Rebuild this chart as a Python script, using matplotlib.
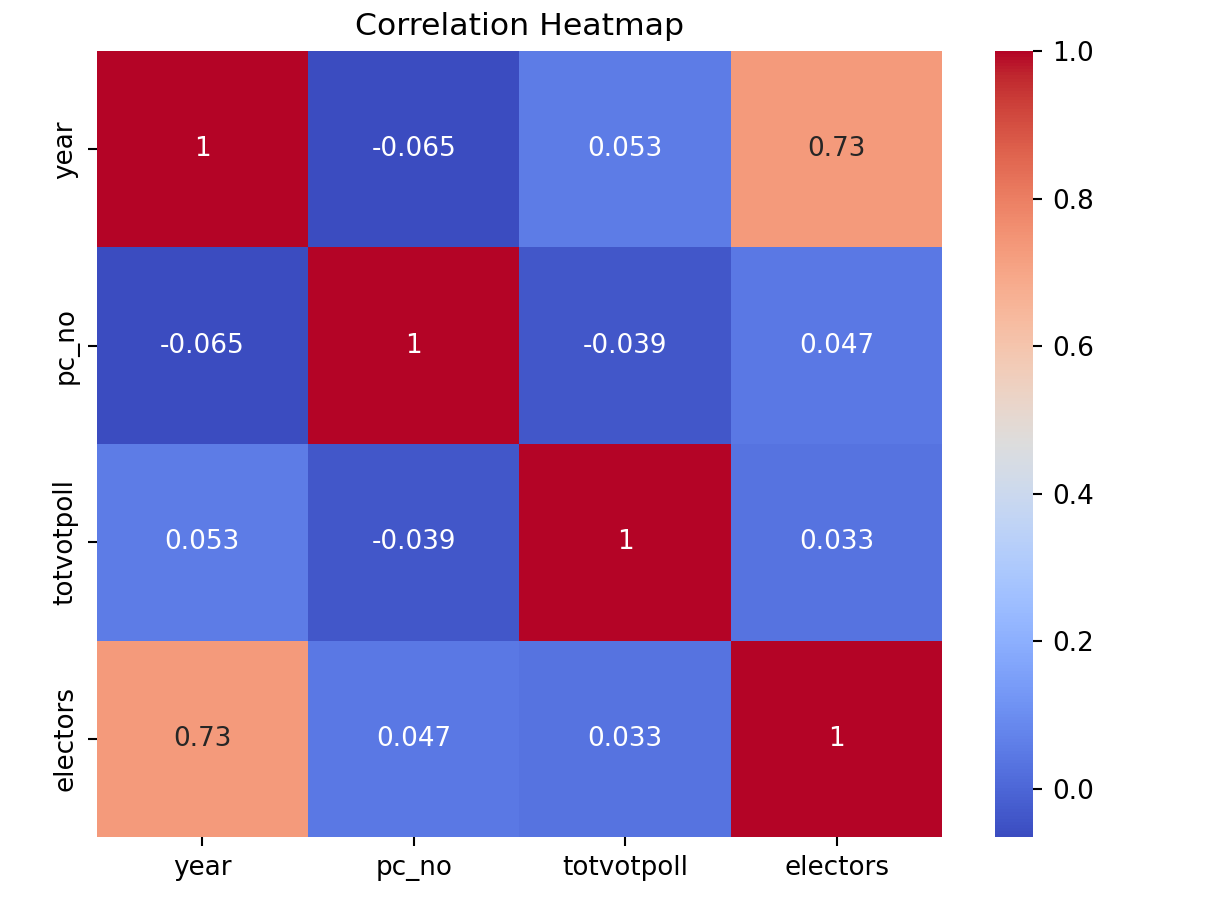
import numpy as np
import matplotlib
matplotlib.use("Agg")
import matplotlib.pyplot as plt
import seaborn as sns

labels = ["year", "pc_no", "totvotpoll", "electors"]
corr = [
    [1.0, -0.065, 0.053, 0.73],
    [-0.065, 1.0, -0.039, 0.047],
    [0.053, -0.039, 1.0, 0.033],
    [0.73, 0.047, 0.033, 1.0],
]

fig = plt.figure(figsize=(6.4, 4.848), dpi=188.75)
ax = fig.add_axes([0.080, 0.0852, 0.700, 0.8591])
cax = fig.add_axes([0.824, 0.0852, 0.0315, 0.8591])
sns.heatmap(np.array(corr), annot=True, cmap="coolwarm", ax=ax, cbar_ax=cax,
            xticklabels=labels, yticklabels=labels)
ax.set_title("Correlation Heatmap")
fig.savefig("out.png", dpi=188.75)
